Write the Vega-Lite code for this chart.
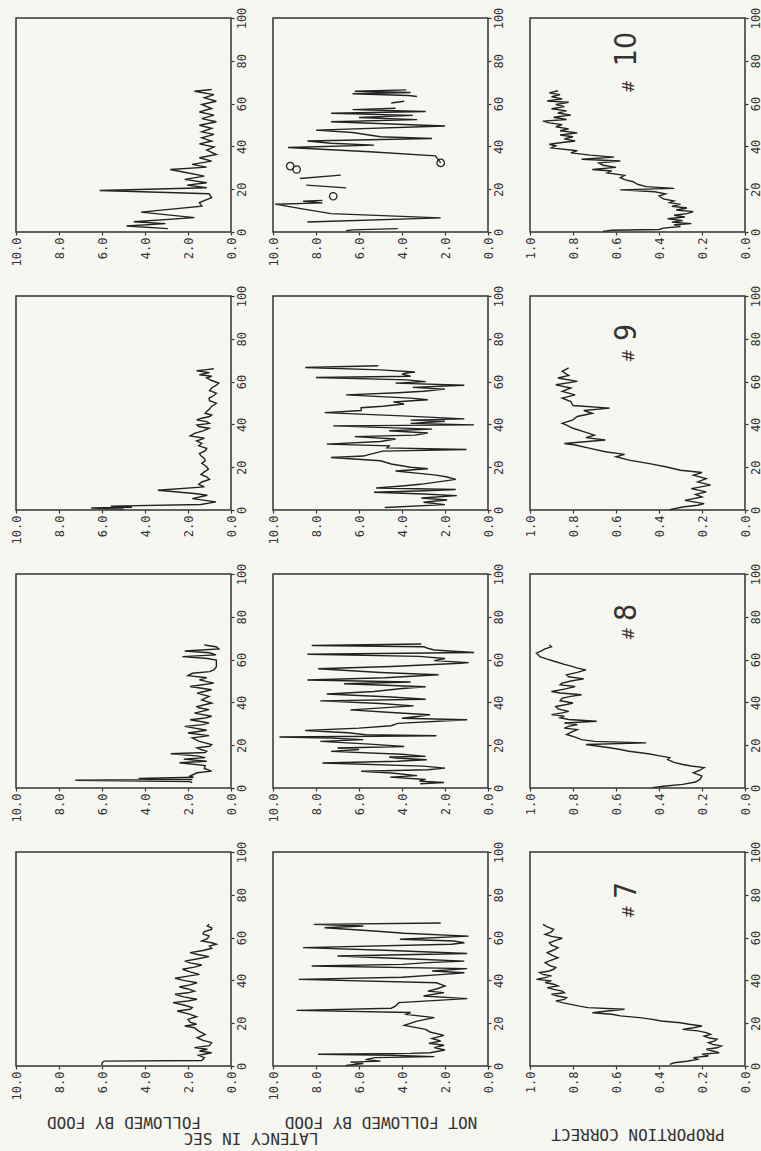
{
"$schema": "https://vega.github.io/schema/vega-lite/v6.json",
"background": "#f7f7f2",
"padding": {"left": 9, "top": 6, "right": 5, "bottom": 4},
"title": {"text": "LATENCY IN SEC", "orient": "bottom", "anchor": "start", "frame": "group", "angle": 180, "align": "center", "baseline": "bottom", "dx": -235, "offset": -12, "font": "DejaVu Sans Mono", "fontSize": 16, "fontWeight": "normal", "color": "#333"},
"datasets": {
"f10": [{"t":1.6,"v":2.94},{"t":2.8,"v":4.86},{"t":3.9,"v":3.05},{"t":4.8,"v":4.52},{"t":6.7,"v":1.7},{"t":9.3,"v":4.18},{"t":12.1,"v":1.36},{"t":13.7,"v":1.47},{"t":16,"v":0.9},{"t":17.9,"v":1.02},{"t":19.4,"v":6.11},{"t":20.7,"v":1.13},{"t":21.9,"v":2.04},{"t":23,"v":1.13},{"t":24.6,"v":2.15},{"t":26.1,"v":1.24},{"t":27.7,"v":2.04},{"t":29.2,"v":2.83},{"t":30.3,"v":1.13},{"t":31.6,"v":1.81},{"t":33.1,"v":0.9},{"t":34.7,"v":1.47},{"t":36.2,"v":0.68},{"t":38.3,"v":1.13},{"t":39.7,"v":0.79},{"t":41.2,"v":1.47},{"t":42.5,"v":0.9},{"t":44,"v":1.36},{"t":45.6,"v":0.79},{"t":46.8,"v":1.36},{"t":48.4,"v":0.9},{"t":49.9,"v":1.47},{"t":51.5,"v":0.68},{"t":53,"v":1.36},{"t":54.6,"v":0.79},{"t":56.1,"v":1.47},{"t":57.7,"v":0.9},{"t":59.6,"v":1.36},{"t":61.1,"v":0.68},{"t":62.7,"v":1.24},{"t":64.2,"v":0.79},{"t":65.8,"v":1.7},{"t":66.6,"v":0.9}],
"n10": [{"t":0.6,"v":6.6},{"t":1.0,"v":6.3},{"t":1.6,"v":4.2},{"t":2.5,"v":null},{"t":4.7,"v":8.4},{"t":6.6,"v":2.2},{"t":8.6,"v":7.3},{"t":10.6,"v":8.5},{"t":13.0,"v":9.9},{"t":13.6,"v":7.7},{"t":14.4,"v":8.6},{"t":14.8,"v":7.7},{"t":15.5,"v":null},{"t":20.6,"v":6.6},{"t":21.9,"v":8.45},{"t":23,"v":null},{"t":25.0,"v":8.75},{"t":26.6,"v":6.85},{"t":28,"v":null},{"t":32.3,"v":2.2},{"t":35.6,"v":2.45},{"t":37.5,"v":5.5},{"t":39.5,"v":9.3},{"t":40.6,"v":5.3},{"t":41.5,"v":7.3},{"t":42.5,"v":8.4},{"t":43.7,"v":2.6},{"t":44.5,"v":5.0},{"t":46.5,"v":6.3},{"t":47.6,"v":8.0},{"t":49.5,"v":2.0},{"t":51.5,"v":7.3},{"t":52.5,"v":3.3},{"t":53.5,"v":6.0},{"t":54.5,"v":3.5},{"t":55.5,"v":7.3},{"t":56.3,"v":2.9},{"t":57.2,"v":6.3},{"t":57.8,"v":4.3},{"t":58.5,"v":null},{"t":60.3,"v":4.5},{"t":61.1,"v":3.9},{"t":62,"v":null},{"t":63.3,"v":3.3},{"t":63.8,"v":3.7},{"t":64.6,"v":6.3},{"t":65.2,"v":3.6},{"t":65.8,"v":6.2},{"t":66.4,"v":3.8}],
"c10": [{"t":16.7,"v":7.2},{"t":29.2,"v":8.9},{"t":30.8,"v":9.2},{"t":32.3,"v":2.2}],
"p10": [{"t":0.3,"v":0.66},{"t":0.8,"v":0.62},{"t":1.2,"v":0.4},{"t":1.8,"v":0.38},{"t":2.6,"v":0.3},{"t":3.4,"v":0.33},{"t":3.9,"v":0.25},{"t":4.6,"v":0.34},{"t":5.3,"v":0.29},{"t":6.2,"v":0.36},{"t":7.0,"v":0.28},{"t":7.8,"v":0.33},{"t":8.6,"v":0.27},{"t":9.5,"v":0.24},{"t":10.3,"v":0.32},{"t":11.2,"v":0.27},{"t":12.0,"v":0.34},{"t":12.9,"v":0.3},{"t":13.7,"v":0.35},{"t":14.5,"v":0.33},{"t":15.5,"v":0.38},{"t":16.8,"v":0.4},{"t":17.8,"v":0.37},{"t":18.8,"v":0.42},{"t":19.7,"v":0.58},{"t":20.4,"v":0.33},{"t":21.2,"v":0.46},{"t":22.3,"v":0.5},{"t":23.5,"v":0.52},{"t":24.5,"v":0.56},{"t":25.4,"v":0.58},{"t":26.5,"v":0.56},{"t":27.6,"v":0.64},{"t":28.5,"v":0.62},{"t":29.2,"v":0.71},{"t":30.2,"v":0.6},{"t":31.2,"v":0.66},{"t":32.3,"v":0.68},{"t":33.2,"v":0.58},{"t":34.0,"v":0.76},{"t":35.0,"v":0.61},{"t":35.9,"v":0.72},{"t":37.0,"v":0.81},{"t":38.0,"v":0.78},{"t":39.3,"v":0.9},{"t":40.2,"v":0.88},{"t":41.0,"v":0.91},{"t":41.8,"v":0.85},{"t":42.5,"v":0.79},{"t":43.5,"v":0.84},{"t":44.5,"v":0.8},{"t":45.3,"v":0.86},{"t":46.3,"v":0.78},{"t":47.3,"v":0.86},{"t":48.2,"v":0.82},{"t":49.2,"v":0.88},{"t":50.2,"v":0.85},{"t":51.0,"v":0.91},{"t":51.8,"v":0.94},{"t":52.6,"v":0.83},{"t":53.6,"v":0.89},{"t":54.6,"v":0.81},{"t":55.6,"v":0.87},{"t":56.6,"v":0.83},{"t":57.6,"v":0.9},{"t":58.6,"v":0.84},{"t":59.6,"v":0.88},{"t":60.6,"v":0.82},{"t":61.2,"v":0.92},{"t":62.2,"v":0.85},{"t":63.2,"v":0.9},{"t":64.2,"v":0.86},{"t":65.0,"v":0.91},{"t":66.0,"v":0.87}],
"f9": [{"t":0.4,"v":5.0},{"t":0.9,"v":6.5},{"t":1.3,"v":4.6},{"t":1.8,"v":5.6},{"t":2.6,"v":1.4},{"t":3.8,"v":0.7},{"t":5.3,"v":1.8},{"t":6.9,"v":1.1},{"t":7.7,"v":1.7},{"t":9.2,"v":3.4},{"t":10.8,"v":1.24},{"t":12.0,"v":1.5},{"t":13.1,"v":1.36},{"t":14.3,"v":1.0},{"t":15.5,"v":1.13},{"t":16.6,"v":1.4},{"t":17.8,"v":1.24},{"t":19.0,"v":1.05},{"t":20.2,"v":1.13},{"t":21.8,"v":1.36},{"t":23.0,"v":1.2},{"t":24.1,"v":1.24},{"t":25.3,"v":1.4},{"t":26.4,"v":1.47},{"t":27.6,"v":1.2},{"t":28.8,"v":1.13},{"t":30.0,"v":1.5},{"t":31.1,"v":1.36},{"t":32.3,"v":1.6},{"t":33.5,"v":1.24},{"t":34.6,"v":1.9},{"t":35.8,"v":1.7},{"t":37.0,"v":1.3},{"t":38.2,"v":1.02},{"t":39.0,"v":1.5},{"t":39.7,"v":1.58},{"t":40.5,"v":1.0},{"t":41.3,"v":1.13},{"t":42.1,"v":1.6},{"t":42.9,"v":1.36},{"t":43.7,"v":1.0},{"t":44.4,"v":0.9},{"t":45.2,"v":1.2},{"t":46.0,"v":1.13},{"t":47.2,"v":1.0},{"t":48.4,"v":0.9},{"t":49.9,"v":0.68},{"t":51.1,"v":1.0},{"t":52.3,"v":1.02},{"t":53.5,"v":0.8},{"t":54.6,"v":0.68},{"t":55.8,"v":1.0},{"t":57.0,"v":0.9},{"t":58.2,"v":0.7},{"t":59.3,"v":0.57},{"t":60.5,"v":0.9},{"t":61.7,"v":1.13},{"t":62.5,"v":0.9},{"t":63.2,"v":1.47},{"t":64.2,"v":1.0},{"t":65.1,"v":1.6},{"t":65.6,"v":1.13},{"t":66.0,"v":0.8}],
"n9": [{"t":1.2,"v":4.8},{"t":2.5,"v":2.0},{"t":3.6,"v":3.0},{"t":4.7,"v":1.9},{"t":5.6,"v":3.1},{"t":6.7,"v":1.45},{"t":7.5,"v":3.0},{"t":8.3,"v":5.3},{"t":9.0,"v":2.9},{"t":9.6,"v":1.5},{"t":10.3,"v":5.2},{"t":11.2,"v":4.0},{"t":12.0,"v":3.15},{"t":13.0,"v":2.4},{"t":14.3,"v":1.5},{"t":15.4,"v":1.9},{"t":16.3,"v":2.4},{"t":17.0,"v":3.1},{"t":18.2,"v":4.3},{"t":19.3,"v":2.8},{"t":20.0,"v":3.6},{"t":21.5,"v":4.5},{"t":23.0,"v":5.0},{"t":24.5,"v":7.3},{"t":25.2,"v":5.8},{"t":26.0,"v":5.5},{"t":27.5,"v":4.9},{"t":28.3,"v":1.0},{"t":29.0,"v":4.7},{"t":30.0,"v":4.6},{"t":30.8,"v":7.5},{"t":32.0,"v":5.0},{"t":33.2,"v":4.3},{"t":34.3,"v":6.2},{"t":35.0,"v":3.4},{"t":36.0,"v":2.8},{"t":37.0,"v":4.6},{"t":37.8,"v":2.6},{"t":39.3,"v":7.2},{"t":39.8,"v":0.65},{"t":40.5,"v":3.6},{"t":41.5,"v":2.0},{"t":42.0,"v":3.6},{"t":42.6,"v":1.1},{"t":44.0,"v":4.0},{"t":45.5,"v":7.6},{"t":46.5,"v":5.9},{"t":47.8,"v":5.9},{"t":48.5,"v":4.9},{"t":49.5,"v":3.9},{"t":50.5,"v":4.4},{"t":51.5,"v":2.8},{"t":52.3,"v":3.6},{"t":53.8,"v":6.6},{"t":54.8,"v":4.2},{"t":55.5,"v":3.0},{"t":56.5,"v":2.0},{"t":57.3,"v":3.5},{"t":58.3,"v":1.1},{"t":59.3,"v":4.3},{"t":60.0,"v":2.9},{"t":60.8,"v":3.8},{"t":61.9,"v":8.0},{"t":62.5,"v":3.6},{"t":63.5,"v":4.0},{"t":64.0,"v":3.8},{"t":64.5,"v":3.4},{"t":65.5,"v":5.0},{"t":66.6,"v":8.5},{"t":67.4,"v":5.1}],
"p9": [{"t":0.2,"v":0.35},{"t":1.4,"v":0.29},{"t":2.2,"v":0.22},{"t":3.0,"v":0.19},{"t":4.5,"v":0.28},{"t":6.1,"v":0.2},{"t":7.3,"v":0.23},{"t":8.5,"v":0.18},{"t":10.0,"v":0.25},{"t":11.6,"v":0.16},{"t":13.1,"v":0.22},{"t":14.7,"v":0.18},{"t":16.3,"v":0.24},{"t":17.5,"v":0.2},{"t":18.6,"v":0.3},{"t":20.2,"v":0.37},{"t":21.8,"v":0.45},{"t":23.3,"v":0.54},{"t":24.9,"v":0.6},{"t":26.0,"v":0.56},{"t":27.2,"v":0.65},{"t":28.8,"v":0.72},{"t":30.4,"v":0.79},{"t":31.1,"v":0.84},{"t":32.7,"v":0.65},{"t":33.8,"v":0.74},{"t":35.0,"v":0.7},{"t":36.3,"v":0.74},{"t":38.2,"v":0.8},{"t":39.7,"v":0.83},{"t":40.5,"v":0.85},{"t":42.1,"v":0.8},{"t":43.7,"v":0.78},{"t":45.2,"v":0.71},{"t":46.5,"v":0.75},{"t":47.6,"v":0.63},{"t":48.8,"v":0.8},{"t":50.7,"v":0.81},{"t":52.3,"v":0.85},{"t":53.8,"v":0.79},{"t":55.4,"v":0.85},{"t":57.0,"v":0.81},{"t":58.5,"v":0.88},{"t":60.1,"v":0.78},{"t":61.7,"v":0.87},{"t":62.9,"v":0.82},{"t":64.8,"v":0.85},{"t":66.4,"v":0.82}],
"f8": [{"t":2.5,"v":1.81},{"t":3.0,"v":1.9},{"t":3.6,"v":7.24},{"t":4.0,"v":1.8},{"t":4.5,"v":4.3},{"t":5.0,"v":1.75},{"t":5.6,"v":1.9},{"t":7.1,"v":1.58},{"t":7.9,"v":0.9},{"t":9.1,"v":1.24},{"t":10.5,"v":1.2},{"t":11.8,"v":2.4},{"t":12.5,"v":1.13},{"t":13.5,"v":2.2},{"t":14.2,"v":1.2},{"t":15.0,"v":1.6},{"t":16.0,"v":2.8},{"t":16.6,"v":1.2},{"t":17.2,"v":1.13},{"t":18.0,"v":1.4},{"t":18.8,"v":1.58},{"t":19.5,"v":1.0},{"t":20.3,"v":0.9},{"t":21.8,"v":1.47},{"t":23.4,"v":1.8},{"t":24.5,"v":1.02},{"t":25.7,"v":2.0},{"t":27.0,"v":1.13},{"t":28.8,"v":2.15},{"t":29.6,"v":1.3},{"t":30.4,"v":1.02},{"t":31.9,"v":1.9},{"t":32.7,"v":1.2},{"t":33.5,"v":0.9},{"t":35.0,"v":1.7},{"t":36.6,"v":1.02},{"t":37.5,"v":1.5},{"t":38.1,"v":1.58},{"t":39.7,"v":0.9},{"t":41.2,"v":1.36},{"t":42.8,"v":1.02},{"t":44.3,"v":1.58},{"t":45.9,"v":0.9},{"t":47.4,"v":1.9},{"t":49.0,"v":0.8},{"t":50.5,"v":1.47},{"t":51.5,"v":1.13},{"t":52.5,"v":2.0},{"t":53.6,"v":1.8},{"t":54.4,"v":1.0},{"t":55.2,"v":0.8},{"t":56.7,"v":0.68},{"t":58.3,"v":0.68},{"t":59.8,"v":0.68},{"t":60.5,"v":1.1},{"t":61.4,"v":2.26},{"t":62.2,"v":0.7},{"t":63.2,"v":1.0},{"t":64.0,"v":2.15},{"t":65.0,"v":0.57},{"t":66.0,"v":0.7},{"t":66.8,"v":1.24}],
"n8": [{"t":2.0,"v":3.15},{"t":2.6,"v":2.05},{"t":3.2,"v":3.2},{"t":4.0,"v":2.9},{"t":5.1,"v":4.55},{"t":5.8,"v":3.3},{"t":7.0,"v":4.5},{"t":7.8,"v":5.9},{"t":8.5,"v":2.8},{"t":9.3,"v":2.0},{"t":10.2,"v":3.0},{"t":11.7,"v":7.7},{"t":12.5,"v":4.2},{"t":13.2,"v":2.85},{"t":14.0,"v":4.3},{"t":14.5,"v":4.6},{"t":14.8,"v":2.9},{"t":15.8,"v":4.0},{"t":17.1,"v":7.3},{"t":18.0,"v":6.0},{"t":18.7,"v":7.0},{"t":19.4,"v":3.9},{"t":20.5,"v":5.5},{"t":21.8,"v":7.8},{"t":22.6,"v":5.8},{"t":23.3,"v":7.3},{"t":23.8,"v":9.7},{"t":24.4,"v":2.4},{"t":24.9,"v":5.7},{"t":25.8,"v":6.5},{"t":26.9,"v":8.5},{"t":28.0,"v":6.0},{"t":29.1,"v":4.5},{"t":30.2,"v":4.2},{"t":31.9,"v":0.97},{"t":32.6,"v":4.0},{"t":33.5,"v":3.2},{"t":34.2,"v":2.7},{"t":35.3,"v":4.5},{"t":36.5,"v":6.4},{"t":38.4,"v":3.46},{"t":39.5,"v":5.0},{"t":40.7,"v":7.8},{"t":41.5,"v":2.9},{"t":42.5,"v":4.5},{"t":43.9,"v":7.5},{"t":45.1,"v":5.3},{"t":46.5,"v":4.0},{"t":47.3,"v":2.9},{"t":48.7,"v":6.7},{"t":49.5,"v":3.6},{"t":50.5,"v":8.4},{"t":51.5,"v":4.8},{"t":52.9,"v":2.3},{"t":54.0,"v":5.0},{"t":55.7,"v":7.9},{"t":56.8,"v":4.5},{"t":57.5,"v":3.0},{"t":58.3,"v":1.3},{"t":58.6,"v":0.9},{"t":59.5,"v":2.5},{"t":60.5,"v":2.0},{"t":61.5,"v":3.2},{"t":62.5,"v":8.4},{"t":63.3,"v":0.65},{"t":64.0,"v":1.8},{"t":64.5,"v":2.5},{"t":65.3,"v":2.8},{"t":66.0,"v":3.0},{"t":66.6,"v":8.2},{"t":67.3,"v":3.1}],
"p8": [{"t":0.2,"v":0.43},{"t":0.8,"v":0.38},{"t":1.7,"v":0.29},{"t":2.8,"v":0.23},{"t":4.0,"v":0.21},{"t":5.6,"v":0.2},{"t":7.1,"v":0.24},{"t":8.3,"v":0.21},{"t":9.5,"v":0.19},{"t":10.3,"v":0.25},{"t":11.0,"v":0.29},{"t":12.0,"v":0.33},{"t":13.3,"v":0.36},{"t":14.2,"v":0.35},{"t":14.9,"v":0.39},{"t":16.0,"v":0.45},{"t":17.2,"v":0.54},{"t":18.0,"v":0.58},{"t":18.8,"v":0.63},{"t":19.5,"v":0.68},{"t":20.3,"v":0.74},{"t":21.1,"v":0.46},{"t":21.8,"v":0.7},{"t":22.6,"v":0.76},{"t":23.8,"v":0.79},{"t":25.0,"v":0.83},{"t":26.0,"v":0.81},{"t":27.3,"v":0.78},{"t":28.0,"v":0.84},{"t":28.8,"v":0.82},{"t":29.6,"v":0.78},{"t":30.4,"v":0.84},{"t":31.2,"v":0.69},{"t":32.0,"v":0.82},{"t":32.8,"v":0.86},{"t":33.6,"v":0.84},{"t":34.3,"v":0.9},{"t":35.1,"v":0.85},{"t":35.8,"v":0.82},{"t":37.0,"v":0.87},{"t":38.1,"v":0.88},{"t":39.0,"v":0.83},{"t":39.7,"v":0.8},{"t":40.8,"v":0.86},{"t":42.0,"v":0.85},{"t":42.8,"v":0.81},{"t":43.6,"v":0.76},{"t":44.4,"v":0.86},{"t":45.1,"v":0.9},{"t":46.2,"v":0.84},{"t":47.4,"v":0.79},{"t":48.2,"v":0.86},{"t":49.0,"v":0.85},{"t":50.0,"v":0.81},{"t":51.0,"v":0.75},{"t":52.0,"v":0.82},{"t":52.9,"v":0.83},{"t":54.0,"v":0.78},{"t":55.2,"v":0.74},{"t":56.0,"v":0.78},{"t":56.7,"v":0.8},{"t":57.8,"v":0.84},{"t":59.0,"v":0.88},{"t":60.2,"v":0.92},{"t":61.4,"v":0.955},{"t":62.2,"v":0.96},{"t":63.0,"v":0.97},{"t":64.0,"v":0.95},{"t":65.0,"v":0.93},{"t":66.0,"v":0.9},{"t":66.8,"v":0.91}],
"f7": [{"t":0.5,"v":6.0},{"t":1.5,"v":6.0},{"t":2.3,"v":5.9},{"t":2.6,"v":1.36},{"t":3.9,"v":1.24},{"t":5.0,"v":1.5},{"t":6.2,"v":0.9},{"t":7.0,"v":1.47},{"t":7.8,"v":1.1},{"t":8.6,"v":1.7},{"t":9.5,"v":1.0},{"t":10.9,"v":0.9},{"t":12.0,"v":1.3},{"t":13.2,"v":1.58},{"t":14.8,"v":1.2},{"t":16.3,"v":1.5},{"t":17.9,"v":1.7},{"t":18.7,"v":2.15},{"t":19.5,"v":1.6},{"t":20.5,"v":1.9},{"t":21.8,"v":2.0},{"t":23.0,"v":1.6},{"t":24.1,"v":1.9},{"t":25.7,"v":2.5},{"t":26.5,"v":1.9},{"t":27.3,"v":1.8},{"t":28.5,"v":2.2},{"t":29.6,"v":2.7},{"t":30.4,"v":2.0},{"t":31.2,"v":1.58},{"t":32.3,"v":2.2},{"t":33.5,"v":2.6},{"t":34.2,"v":2.0},{"t":35.0,"v":1.7},{"t":36.0,"v":2.0},{"t":36.9,"v":2.4},{"t":37.9,"v":1.9},{"t":38.9,"v":1.58},{"t":40.0,"v":2.2},{"t":41.0,"v":2.6},{"t":42.0,"v":2.0},{"t":42.8,"v":1.47},{"t":44.0,"v":1.9},{"t":45.2,"v":2.26},{"t":46.2,"v":1.7},{"t":47.2,"v":1.36},{"t":48.2,"v":1.9},{"t":49.0,"v":2.15},{"t":50.0,"v":1.6},{"t":51.1,"v":1.02},{"t":52.0,"v":1.5},{"t":53.0,"v":1.9},{"t":54.0,"v":1.3},{"t":55.0,"v":0.9},{"t":56.0,"v":1.0},{"t":56.9,"v":0.68},{"t":57.6,"v":0.9},{"t":58.4,"v":1.36},{"t":59.5,"v":1.1},{"t":60.7,"v":1.02},{"t":61.7,"v":1.3},{"t":62.8,"v":1.24},{"t":63.8,"v":0.9},{"t":64.6,"v":0.9},{"t":65.4,"v":1.1},{"t":66.2,"v":1.02}],
"n7": [{"t":0.3,"v":6.6},{"t":1.2,"v":5.8},{"t":1.8,"v":6.4},{"t":2.3,"v":5.0},{"t":3.0,"v":5.7},{"t":3.9,"v":5.25},{"t":4.4,"v":2.5},{"t":5.0,"v":4.5},{"t":5.5,"v":7.9},{"t":5.9,"v":3.6},{"t":6.2,"v":2.7},{"t":7.5,"v":2.0},{"t":8.6,"v":2.5},{"t":9.7,"v":2.05},{"t":10.6,"v":2.75},{"t":11.7,"v":2.2},{"t":12.8,"v":2.6},{"t":14.3,"v":2.05},{"t":15.9,"v":2.7},{"t":17.1,"v":2.9},{"t":19.0,"v":3.9},{"t":21.0,"v":3.3},{"t":22.6,"v":2.5},{"t":24.1,"v":3.8},{"t":25.0,"v":3.6},{"t":26.0,"v":8.9},{"t":27.0,"v":4.5},{"t":28.0,"v":4.3},{"t":29.6,"v":4.15},{"t":31.5,"v":0.97},{"t":32.7,"v":3.0},{"t":34.3,"v":2.05},{"t":35.0,"v":2.8},{"t":36.0,"v":2.4},{"t":37.4,"v":2.0},{"t":38.9,"v":2.4},{"t":40.5,"v":8.8},{"t":41.5,"v":4.0},{"t":42.8,"v":2.05},{"t":43.6,"v":1.1},{"t":44.4,"v":2.6},{"t":45.5,"v":0.97},{"t":46.7,"v":8.2},{"t":47.5,"v":4.0},{"t":48.3,"v":2.8},{"t":49.0,"v":1.1},{"t":50.0,"v":3.5},{"t":51.4,"v":7.0},{"t":52.6,"v":0.97},{"t":54.0,"v":4.5},{"t":55.3,"v":8.6},{"t":56.9,"v":1.7},{"t":57.6,"v":1.1},{"t":58.4,"v":1.6},{"t":59.2,"v":4.1},{"t":60.7,"v":0.9},{"t":62.0,"v":3.9},{"t":63.1,"v":5.3},{"t":64.6,"v":7.6},{"t":65.4,"v":5.8},{"t":66.2,"v":8.1},{"t":66.8,"v":2.2}],
"p7": [{"t":0.8,"v":0.35},{"t":1.5,"v":0.33},{"t":2.2,"v":0.27},{"t":3.1,"v":0.22},{"t":3.9,"v":0.24},{"t":4.7,"v":0.17},{"t":5.5,"v":0.2},{"t":6.2,"v":0.12},{"t":7.0,"v":0.15},{"t":7.8,"v":0.18},{"t":8.5,"v":0.13},{"t":9.3,"v":0.11},{"t":10.1,"v":0.15},{"t":10.9,"v":0.17},{"t":11.7,"v":0.14},{"t":12.5,"v":0.13},{"t":13.2,"v":0.17},{"t":14.0,"v":0.19},{"t":14.8,"v":0.16},{"t":15.6,"v":0.18},{"t":16.4,"v":0.22},{"t":17.1,"v":0.29},{"t":17.9,"v":0.24},{"t":18.7,"v":0.2},{"t":19.5,"v":0.26},{"t":20.2,"v":0.3},{"t":21.0,"v":0.39},{"t":21.8,"v":0.43},{"t":22.6,"v":0.49},{"t":23.4,"v":0.58},{"t":24.2,"v":0.62},{"t":24.9,"v":0.71},{"t":25.7,"v":0.64},{"t":26.5,"v":0.56},{"t":27.3,"v":0.73},{"t":28.0,"v":0.77},{"t":28.8,"v":0.81},{"t":29.6,"v":0.85},{"t":30.4,"v":0.88},{"t":31.1,"v":0.84},{"t":31.9,"v":0.83},{"t":32.7,"v":0.87},{"t":33.5,"v":0.9},{"t":34.2,"v":0.84},{"t":35.0,"v":0.85},{"t":35.8,"v":0.89},{"t":36.6,"v":0.92},{"t":37.4,"v":0.87},{"t":38.2,"v":0.89},{"t":39.0,"v":0.93},{"t":39.8,"v":0.9},{"t":40.5,"v":0.97},{"t":41.3,"v":0.93},{"t":42.1,"v":0.9},{"t":42.8,"v":0.94},{"t":43.6,"v":0.955},{"t":44.4,"v":0.91},{"t":45.2,"v":0.89},{"t":46.0,"v":0.88},{"t":47.0,"v":0.91},{"t":48.3,"v":0.93},{"t":49.5,"v":0.9},{"t":50.6,"v":0.87},{"t":51.8,"v":0.9},{"t":53.0,"v":0.92},{"t":54.2,"v":0.89},{"t":55.3,"v":0.87},{"t":56.5,"v":0.9},{"t":57.6,"v":0.91},{"t":58.7,"v":0.88},{"t":59.7,"v":0.85},{"t":60.6,"v":0.9},{"t":61.5,"v":0.93},{"t":62.7,"v":0.9},{"t":63.9,"v":0.89},{"t":65.0,"v":0.92},{"t":66.2,"v":0.94}]
},
"columns": 3,
"spacing": {"row": 64, "column": 42},
"bounds": "flush",
"concat": [
{"data": {"name": "f10"}, "width": 215, "height": 214, "mark": "line",
 "encoding": {"x": {"field": "v", "type": "quantitative", "scale": {"domain": [0, 10], "reverse": true, "nice": false}, "axis": {"values": [0,2,4,6,8,10], "format": ".1f", "title": null}},
  "y": {"field": "t", "type": "quantitative", "scale": {"domain": [0, 100], "nice": false}, "axis": {"orient": "right", "values": [0,20,40,60,80,100], "title": null}},
  "order": {"field": "t", "type": "quantitative"}}},
{"width": 215, "height": 214, "layer": [
 {"data": {"name": "n10"}, "mark": {"type": "line", "invalid": "break-paths-show-domains"},
  "encoding": {"x": {"field": "v", "type": "quantitative", "scale": {"domain": [0, 10], "reverse": true, "nice": false}, "axis": {"values": [0,2,4,6,8,10], "format": ".1f", "title": null}},
   "y": {"field": "t", "type": "quantitative", "scale": {"domain": [0, 100], "nice": false}, "axis": {"orient": "right", "values": [0,20,40,60,80,100], "title": null}},
   "order": {"field": "t", "type": "quantitative"}}},
 {"data": {"name": "c10"}, "mark": {"type": "point", "shape": "circle", "filled": false, "size": 55, "stroke": "#222", "strokeWidth": 1.3, "opacity": 1},
  "encoding": {"x": {"field": "v", "type": "quantitative"}, "y": {"field": "t", "type": "quantitative"}}}
]},
{"width": 215, "height": 214, "layer": [
 {"data": {"name": "p10"}, "mark": "line",
  "encoding": {"x": {"field": "v", "type": "quantitative", "scale": {"domain": [0, 1], "reverse": true, "nice": false}, "axis": {"values": [0,0.2,0.4,0.6,0.8,1], "format": ".1f", "title": null}},
   "y": {"field": "t", "type": "quantitative", "scale": {"domain": [0, 100], "nice": false}, "axis": {"orient": "right", "values": [0,20,40,60,80,100], "title": null}},
   "order": {"field": "t", "type": "quantitative"}}},
 {"data": {"values": [{"label": "#"}]}, "mark": {"type": "text", "angle": 270, "fontSize": 16, "font": "DejaVu Sans", "color": "#333"}, "encoding": {"text": {"field": "label"}, "x": {"datum": 0.54, "type": "quantitative"}, "y": {"datum": 68, "type": "quantitative"}}},
 {"data": {"values": [{"label": "10"}]}, "mark": {"type": "text", "angle": 270, "fontSize": 30, "font": "DejaVu Sans Condensed, DejaVu Sans", "fontWeight": 300, "color": "#333"}, "encoding": {"text": {"field": "label"}, "x": {"datum": 0.55, "type": "quantitative"}, "y": {"datum": 85.5, "type": "quantitative"}}}
]},
{"data": {"name": "f9"}, "width": 215, "height": 214, "mark": "line",
 "encoding": {"x": {"field": "v", "type": "quantitative", "scale": {"domain": [0, 10], "reverse": true, "nice": false}, "axis": {"values": [0,2,4,6,8,10], "format": ".1f", "title": null}},
  "y": {"field": "t", "type": "quantitative", "scale": {"domain": [0, 100], "nice": false}, "axis": {"orient": "right", "values": [0,20,40,60,80,100], "title": null}},
  "order": {"field": "t", "type": "quantitative"}}},
{"data": {"name": "n9"}, "width": 215, "height": 214, "mark": "line",
 "encoding": {"x": {"field": "v", "type": "quantitative", "scale": {"domain": [0, 10], "reverse": true, "nice": false}, "axis": {"values": [0,2,4,6,8,10], "format": ".1f", "title": null}},
  "y": {"field": "t", "type": "quantitative", "scale": {"domain": [0, 100], "nice": false}, "axis": {"orient": "right", "values": [0,20,40,60,80,100], "title": null}},
  "order": {"field": "t", "type": "quantitative"}}},
{"width": 215, "height": 214, "layer": [
 {"data": {"name": "p9"}, "mark": "line",
  "encoding": {"x": {"field": "v", "type": "quantitative", "scale": {"domain": [0, 1], "reverse": true, "nice": false}, "axis": {"values": [0,0.2,0.4,0.6,0.8,1], "format": ".1f", "title": null}},
   "y": {"field": "t", "type": "quantitative", "scale": {"domain": [0, 100], "nice": false}, "axis": {"orient": "right", "values": [0,20,40,60,80,100], "title": null}},
   "order": {"field": "t", "type": "quantitative"}}},
 {"data": {"values": [{"label": "#"}]}, "mark": {"type": "text", "angle": 270, "fontSize": 16, "font": "DejaVu Sans", "color": "#333"}, "encoding": {"text": {"field": "label"}, "x": {"datum": 0.54, "type": "quantitative"}, "y": {"datum": 72, "type": "quantitative"}}},
 {"data": {"values": [{"label": "9"}]}, "mark": {"type": "text", "angle": 270, "fontSize": 30, "font": "DejaVu Sans Condensed, DejaVu Sans", "fontWeight": 300, "color": "#333"}, "encoding": {"text": {"field": "label"}, "x": {"datum": 0.55, "type": "quantitative"}, "y": {"datum": 83, "type": "quantitative"}}}
]},
{"data": {"name": "f8"}, "width": 215, "height": 214, "mark": "line",
 "encoding": {"x": {"field": "v", "type": "quantitative", "scale": {"domain": [0, 10], "reverse": true, "nice": false}, "axis": {"values": [0,2,4,6,8,10], "format": ".1f", "title": null}},
  "y": {"field": "t", "type": "quantitative", "scale": {"domain": [0, 100], "nice": false}, "axis": {"orient": "right", "values": [0,20,40,60,80,100], "title": null}},
  "order": {"field": "t", "type": "quantitative"}}},
{"data": {"name": "n8"}, "width": 215, "height": 214, "mark": "line",
 "encoding": {"x": {"field": "v", "type": "quantitative", "scale": {"domain": [0, 10], "reverse": true, "nice": false}, "axis": {"values": [0,2,4,6,8,10], "format": ".1f", "title": null}},
  "y": {"field": "t", "type": "quantitative", "scale": {"domain": [0, 100], "nice": false}, "axis": {"orient": "right", "values": [0,20,40,60,80,100], "title": null}},
  "order": {"field": "t", "type": "quantitative"}}},
{"width": 215, "height": 214, "layer": [
 {"data": {"name": "p8"}, "mark": "line",
  "encoding": {"x": {"field": "v", "type": "quantitative", "scale": {"domain": [0, 1], "reverse": true, "nice": false}, "axis": {"values": [0,0.2,0.4,0.6,0.8,1], "format": ".1f", "title": null}},
   "y": {"field": "t", "type": "quantitative", "scale": {"domain": [0, 100], "nice": false}, "axis": {"orient": "right", "values": [0,20,40,60,80,100], "title": null}},
   "order": {"field": "t", "type": "quantitative"}}},
 {"data": {"values": [{"label": "#"}]}, "mark": {"type": "text", "angle": 270, "fontSize": 16, "font": "DejaVu Sans", "color": "#333"}, "encoding": {"text": {"field": "label"}, "x": {"datum": 0.54, "type": "quantitative"}, "y": {"datum": 72, "type": "quantitative"}}},
 {"data": {"values": [{"label": "8"}]}, "mark": {"type": "text", "angle": 270, "fontSize": 30, "font": "DejaVu Sans Condensed, DejaVu Sans", "fontWeight": 300, "color": "#333"}, "encoding": {"text": {"field": "label"}, "x": {"datum": 0.55, "type": "quantitative"}, "y": {"datum": 82, "type": "quantitative"}}}
]},
{"data": {"name": "f7"}, "width": 215, "height": 214, "mark": "line",
 "encoding": {"x": {"field": "v", "type": "quantitative", "scale": {"domain": [0, 10], "reverse": true, "nice": false}, "axis": {"values": [0,2,4,6,8,10], "format": ".1f", "title": "FOLLOWED BY FOOD", "titlePadding": 14}},
  "y": {"field": "t", "type": "quantitative", "scale": {"domain": [0, 100], "nice": false}, "axis": {"orient": "right", "values": [0,20,40,60,80,100], "title": null}},
  "order": {"field": "t", "type": "quantitative"}}},
{"data": {"name": "n7"}, "width": 215, "height": 214, "mark": "line",
 "encoding": {"x": {"field": "v", "type": "quantitative", "scale": {"domain": [0, 10], "reverse": true, "nice": false}, "axis": {"values": [0,2,4,6,8,10], "format": ".1f", "title": "NOT FOLLOWED BY FOOD", "titlePadding": 14}},
  "y": {"field": "t", "type": "quantitative", "scale": {"domain": [0, 100], "nice": false}, "axis": {"orient": "right", "values": [0,20,40,60,80,100], "title": null}},
  "order": {"field": "t", "type": "quantitative"}}},
{"width": 215, "height": 214, "layer": [
 {"data": {"name": "p7"}, "mark": "line",
  "encoding": {"x": {"field": "v", "type": "quantitative", "scale": {"domain": [0, 1], "reverse": true, "nice": false}, "axis": {"values": [0,0.2,0.4,0.6,0.8,1], "format": ".1f", "title": "PROPORTION CORRECT", "titlePadding": 33}},
   "y": {"field": "t", "type": "quantitative", "scale": {"domain": [0, 100], "nice": false}, "axis": {"orient": "right", "values": [0,20,40,60,80,100], "title": null}},
   "order": {"field": "t", "type": "quantitative"}}},
 {"data": {"values": [{"label": "#"}]}, "mark": {"type": "text", "angle": 270, "fontSize": 16, "font": "DejaVu Sans", "color": "#333"}, "encoding": {"text": {"field": "label"}, "x": {"datum": 0.54, "type": "quantitative"}, "y": {"datum": 72, "type": "quantitative"}}},
 {"data": {"values": [{"label": "7"}]}, "mark": {"type": "text", "angle": 270, "fontSize": 30, "font": "DejaVu Sans Condensed, DejaVu Sans", "fontWeight": 300, "color": "#333"}, "encoding": {"text": {"field": "label"}, "x": {"datum": 0.55, "type": "quantitative"}, "y": {"datum": 82, "type": "quantitative"}}}
]}
],
"config": {
 "view": {"stroke": "#333", "strokeWidth": 1.5},
 "font": "DejaVu Sans Mono",
 "axis": {"domain": false, "grid": false, "tickColor": "#333", "tickSize": 3, "tickWidth": 1.2, "labelColor": "#333", "labelFont": "DejaVu Sans Mono", "labelFontSize": 12, "labelPadding": 2, "labelFlush": false, "labelOverlap": false, "titleFont": "DejaVu Sans Mono", "titleFontSize": 16, "titleFontWeight": "normal", "titleColor": "#333"},
 "axisX": {"labelAngle": 270, "labelAlign": "right", "labelBaseline": "middle", "titleAngle": 180, "titleBaseline": "bottom"},
 "axisY": {"labelAngle": 270, "labelAlign": "center", "labelBaseline": "top"},
 "line": {"stroke": "#222", "strokeWidth": 1.4},
 "text": {"align": "center", "baseline": "middle"}
}
}
